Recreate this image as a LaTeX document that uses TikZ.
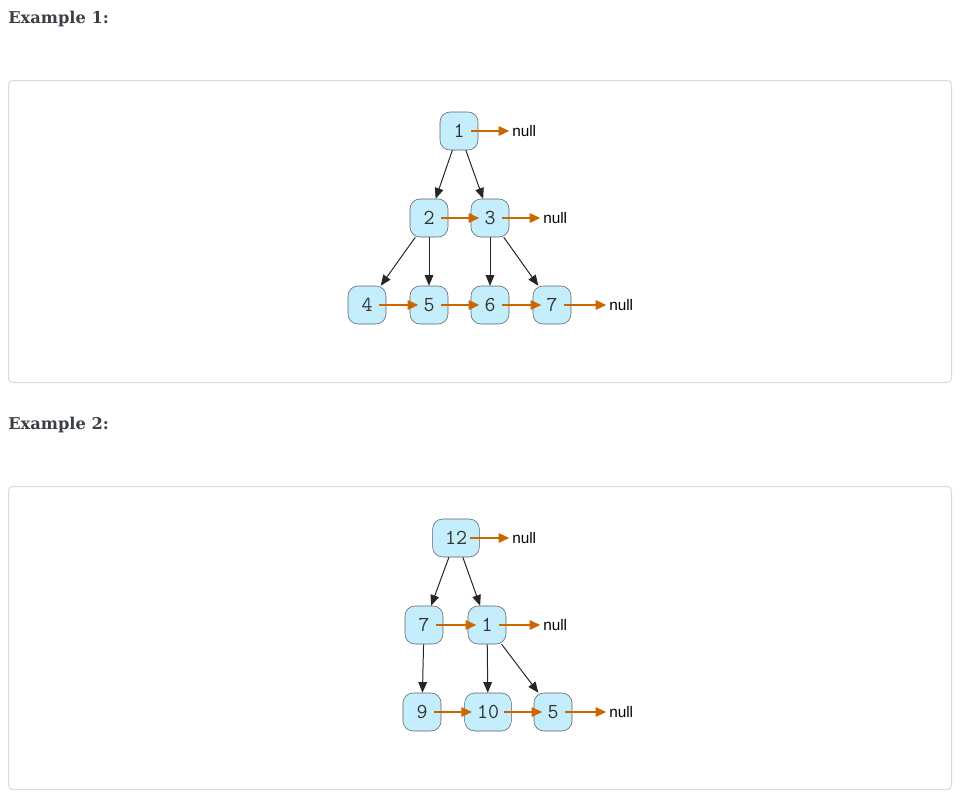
\documentclass[tikz,border=0pt]{standalone}
\usepackage{fontspec}
\setmainfont{DejaVu Serif}
\newfontfamily\nulltextfont{Liberation Sans}
\usetikzlibrary{arrows.meta,positioning}
\definecolor{nodefill}{HTML}{C4EEFC}
\definecolor{nodeedge}{HTML}{5A5F63}
\definecolor{nextorange}{HTML}{CC6600}
\definecolor{framegray}{HTML}{DADADA}
\definecolor{headtext}{HTML}{3B4046}

\begin{document}
\begin{tikzpicture}[
  x=0.75pt, y=-0.75pt,
  tnode/.style={draw=nodeedge, fill=nodefill, rounded corners=7.5pt, minimum width=28.5pt,
                minimum height=28.5pt, inner sep=0pt, text=black!80,
                font=\ttfamily\fontsize{16}{16}\selectfont},
  wide/.style={minimum width=35pt},
  nulltxt/.style={anchor=west, inner sep=0pt, font=\nulltextfont\fontsize{11.5}{12}\selectfont},
  head/.style={anchor=base west, inner sep=0pt, text=headtext,
               font=\bfseries\fontsize{12.2}{14}\selectfont},
  frame/.style={draw=framegray, line width=0.75pt, rounded corners=3pt},
  child/.style={-{Triangle[length=8pt, width=6.5pt]}, line width=0.75pt, black!85},
  nextarr/.style={-{Triangle[length=8pt, width=7pt]}, line width=1.5pt, nextorange,
                  shorten <=9pt, shorten >=8pt},
  tonull/.style={nextarr, shorten >=2pt}
]
\useasboundingbox (0,0) rectangle (965,800);

% example 1
\node[head] (h1) at (8,23.5) {Example 1:};
\draw[frame] (8.5,80.5) rectangle (951.5,382.5);

\node[tnode] (a1) at (459,131) {1};
\node[tnode] (a2) at (429,218) {2};
\node[tnode] (a3) at (490,218) {3};
\node[tnode] (a4) at (367,305) {4};
\node[tnode] (a5) at (429,305) {5};
\node[tnode] (a6) at (490,305) {6};
\node[tnode] (a7) at (552,305) {7};
\node[nulltxt] (an1) at (512,131) {null};
\node[nulltxt] (an2) at (543,218) {null};
\node[nulltxt] (an3) at (609,305) {null};

\draw[child] (a1) -- (a2);
\draw[child] (a1) -- (a3);
\draw[child] (a2) -- (a4);
\draw[child] (a2) -- (a5);
\draw[child] (a3) -- (a6);
\draw[child] (a3) -- (a7);

\draw[tonull] (a1.center) -- (an1.west);
\draw[nextarr] (a2.center) -- (a3.center);
\draw[tonull] (a3.center) -- (an2.west);
\draw[nextarr] (a4.center) -- (a5.center);
\draw[nextarr] (a5.center) -- (a6.center);
\draw[nextarr] (a6.center) -- (a7.center);
\draw[tonull] (a7.center) -- (an3.west);

% example 2
\node[head] (h2) at (8,429.5) {Example 2:};
\draw[frame] (8.5,486.5) rectangle (951.5,789.5);

\node[tnode, wide] (b12) at (456,538) {12};
\node[tnode] (b7) at (424,625) {7};
\node[tnode] (b1) at (487,625) {1};
\node[tnode] (b9) at (422,712) {9};
\node[tnode, wide] (b10) at (488,712) {10};
\node[tnode] (b5) at (553,712) {5};
\node[nulltxt] (bn1) at (512,538) {null};
\node[nulltxt] (bn2) at (543,625) {null};
\node[nulltxt] (bn3) at (609,712) {null};

\draw[child] (b12) -- (b7);
\draw[child] (b12) -- (b1);
\draw[child] (b7) -- (b9);
\draw[child] (b1) -- (b10);
\draw[child] (b1) -- (b5);

\draw[tonull, shorten <=10.5pt] (b12.center) -- (bn1.west);
\draw[nextarr] (b7.center) -- (b1.center);
\draw[tonull] (b1.center) -- (bn2.west);
\draw[nextarr, shorten >=12pt] (b9.center) -- (b10.center);
\draw[nextarr, shorten <=12pt] (b10.center) -- (b5.center);
\draw[tonull] (b5.center) -- (bn3.west);
\end{tikzpicture}
\end{document}
